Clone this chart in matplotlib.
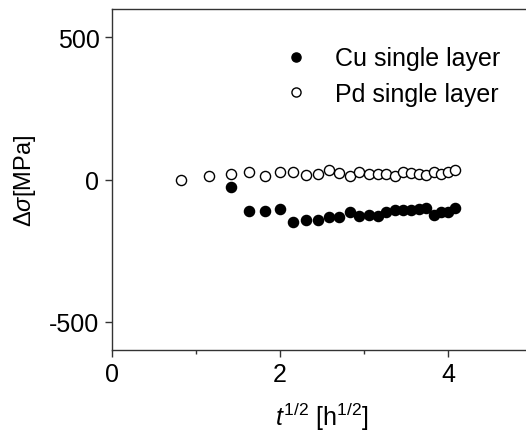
import numpy as np
import matplotlib
matplotlib.use("Agg")
import matplotlib.pyplot as plt
from matplotlib.ticker import MultipleLocator

plt.rcParams['font.family'] = ['Liberation Sans', 'DejaVu Sans']
plt.rcParams['mathtext.fontset'] = 'custom'
plt.rcParams['mathtext.rm'] = 'Liberation Sans'
plt.rcParams['mathtext.it'] = 'Liberation Sans:italic'
plt.rcParams['axes.unicode_minus'] = False

# sqrt(t) in h^1/2, samples every 40 min
t_pd = np.sqrt(np.arange(1, 26) * 2 / 3)
t_cu = np.sqrt(np.arange(3, 26) * 2 / 3)

pd_stress = [-3, 11, 21, 28, 14, 26, 26, 15, 20, 32, 24, 14, 26,
             21, 21, 20, 14, 27, 24, 20, 15, 26, 21, 28, 32]
cu_stress = [-27, -111, -111, -104, -150, -143, -141, -133, -133, -115, -127, -125,
             -129, -115, -109, -106, -109, -103, -100, -125, -113, -115, -101]

fig = plt.figure(figsize=(5.26, 4.39), dpi=100)
ax = fig.add_axes([112 / 526, 88 / 439, 420 / 526, 341 / 439])

ax.plot(t_cu, cu_stress, 'o', color='black', ms=7.3, mec='black', label='Cu single layer')
ax.plot(t_pd, pd_stress, 'o', color='black', ms=7.3, mfc='white', mec='black', mew=1.0,
        label='Pd single layer')

ax.set_xlim(0, 5)
ax.set_ylim(-600, 600)
ax.xaxis.set_major_locator(MultipleLocator(2))
ax.xaxis.set_minor_locator(MultipleLocator(1))
ax.yaxis.set_major_locator(MultipleLocator(500))
ax.tick_params(axis='both', which='major', direction='out', length=5, width=1,
               labelsize=18, pad=4, color='#333333')
ax.tick_params(axis='x', which='minor', direction='out', length=3, width=1, color='#333333')
for s in ax.spines.values():
    s.set_color('#333333')
    s.set_linewidth(1)

ax.set_xlabel(r'$\mathit{t}^{1/2}$ [h$^{1/2}$]', fontsize=18, labelpad=10)
ax.set_ylabel(r'$\Delta\sigma$[MPa]', fontsize=17, labelpad=8)

ax.legend(loc='upper left', bbox_to_anchor=(0.39, 0.92), frameon=False, fontsize=18,
          handlelength=0.8, handletextpad=1.15, labelspacing=0.45, borderaxespad=0,
          markerscale=0.9)

fig.savefig('out.png', dpi=100)
